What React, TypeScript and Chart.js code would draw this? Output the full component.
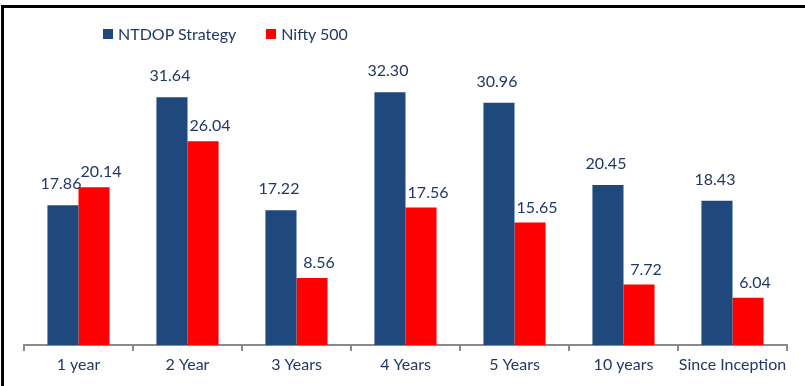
import React, { useEffect, useRef } from "react";
import { Chart, registerables } from "chart.js";

Chart.register(...registerables);

const categories = ["1 year", "2 Year", "3 Years", "4 Years", "5 Years", "10 years", "Since Inception"];
const ntdopValues = [17.86, 31.64, 17.22, 32.3, 30.96, 20.45, 18.43];
const niftyValues = [20.14, 26.04, 8.56, 17.56, 15.65, 7.72, 6.04];
const seriesNames = ["NTDOP Strategy", "Nifty 500"];

const BLUE = "#1F497D";
const RED = "#FF0000";
const TEXT = "#203864";
const FONT = "Lato, 'Open Sans', sans-serif";

// label placement per series: [dx, dy]
const labelShift = [
  [-2, -21],
  [7, -15],
];

const dataLabels = {
  id: "dataLabels",
  afterDatasetsDraw(chart: any) {
    const ctx = chart.ctx;
    ctx.save();
    ctx.font = `16px ${FONT}`;
    ctx.fillStyle = TEXT;
    ctx.textAlign = "center";
    ctx.textBaseline = "middle";
    chart.data.datasets.forEach((ds: any, di: number) => {
      const meta = chart.getDatasetMeta(di);
      const [dx, dy] = labelShift[di];
      meta.data.forEach((el: any, i: number) => {
        ctx.fillText(Number(ds.data[i]).toFixed(2), el.x + dx, el.y + dy);
      });
    });
    ctx.restore();
  },
};

export default function App() {
  const ref = useRef<HTMLCanvasElement>(null);
  useEffect(() => {
    document.body.style.margin = "0";
    const chart = new Chart(ref.current!, {
      type: "bar",
      data: {
        labels: categories,
        datasets: [
          { label: seriesNames[0], data: ntdopValues, backgroundColor: BLUE },
          { label: seriesNames[1], data: niftyValues, backgroundColor: RED },
        ],
      },
      options: {
        animation: false,
        responsive: false,
        maintainAspectRatio: false,
        layout: { padding: { left: 24, right: 18, top: 71, bottom: 0 } },
        datasets: { bar: { categoryPercentage: 0.57, barPercentage: 1.0 } },
        plugins: { legend: { display: false }, tooltip: { enabled: false } },
        scales: {
          x: {
            grid: { drawOnChartArea: false, drawTicks: true, tickLength: 6, color: "#8A8A8A", lineWidth: 2 },
            border: { display: true, color: "#8A8A8A", width: 2 },
            ticks: { color: TEXT, font: { family: FONT, size: 16 }, padding: 4, maxRotation: 0, autoSkip: false },
            afterFit: (s: any) => { s.height = 41; },
          },
          y: { display: false, min: 0, max: 35 },
        },
      },
      plugins: [dataLabels],
    });
    return () => chart.destroy();
  }, []);

  return (
    <div style={{ position: "absolute", left: 0, top: 0, width: 805, height: 386, background: "#fff", overflow: "hidden" }}>
      <div style={{ position: "absolute", left: 1, top: 5, width: 804, height: 381, borderTop: "3px solid #000", borderLeft: "3px solid #000", boxSizing: "border-box" }} />
      <canvas ref={ref} width={805} height={386} style={{ position: "absolute", left: 0, top: 0 }} />
      <div style={{ position: "absolute", left: 103, top: 24, display: "flex", alignItems: "center", fontFamily: FONT, fontSize: 16, color: TEXT, lineHeight: "20px", whiteSpace: "nowrap" }}>
        <span style={{ display: "inline-block", width: 10, height: 10, background: BLUE, marginRight: 5 }} />
        <span>{seriesNames[0]}</span>
        <span style={{ display: "inline-block", width: 10, height: 10, background: RED, marginLeft: 30, marginRight: 5 }} />
        <span>{seriesNames[1]}</span>
      </div>
    </div>
  );
}
